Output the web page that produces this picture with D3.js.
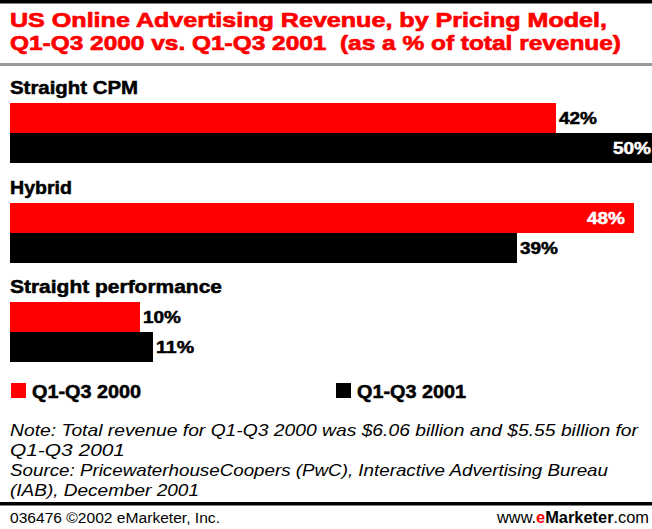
<!DOCTYPE html>
<html><head><meta charset="utf-8">
<script src="https://cdn.jsdelivr.net/npm/d3@7"></script>
<style>body{margin:0;background:#fff}svg{display:block}</style>
</head><body>
<div id="chart"></div>
<script>
const categories = ["Straight CPM", "Hybrid", "Straight performance"];
const seriesNames = ["Q1-Q3 2000", "Q1-Q3 2001"];
const values2000 = [42, 48, 10];
const values2001 = [50, 39, 11];
const titleLines = ["US Online Advertising Revenue, by Pricing Model,", "Q1-Q3 2000 vs. Q1-Q3 2001  (as a % of total revenue)"];
const noteLines = ["Note: Total revenue for Q1-Q3 2000 was $6.06 billion and $5.55 billion for", "Q1-Q3 2001", "Source: PricewaterhouseCoopers (PwC), Interactive Advertising Bureau", "(IAB), December 2001"];

const W = 652, H = 529;
const colors = ["#ff0000", "#000000"];
const font = "'Liberation Sans Narrow', 'Liberation Sans', Arial, sans-serif";
const svg = d3.select("#chart").append("svg").attr("width", W).attr("height", H);
svg.append("rect").attr("width", W).attr("height", H).attr("fill", "#fff");

// top black rule
svg.append("rect").attr("x", 0).attr("y", 0).attr("width", W).attr("height", 3.5).attr("fill", "#000");

// title
const titleLens = [597, 611];
svg.selectAll(".title").data(titleLines).enter().append("text")
  .attr("x", 10).attr("y", (d, i) => 27 + i * 23)
  .style("white-space", "pre")
  .attr("font-family", font).attr("font-weight", "bold").attr("font-size", 21)
  .attr("fill", "#ff0000").attr("stroke", "#ff0000").attr("stroke-width", 0.7)
  .attr("textLength", (d, i) => titleLens[i]).attr("lengthAdjust", "spacingAndGlyphs")
  .text(d => d);
svg.append("rect").attr("x", 0).attr("y", 63).attr("width", W).attr("height", 3).attr("fill", "#9a9a9a");

// scales
const x = d3.scaleLinear().domain([0, 50]).range([10, 660]);
const groupY = d3.scaleBand().domain(categories).range([103, 403]).paddingInner(0).paddingOuter(0);
const rows = categories.map((c, i) => ({cat: c, vals: [values2000[i], values2001[i]]}));

const catLens = [128, 62, 212];
const g = svg.selectAll(".grp").data(rows).enter().append("g")
  .attr("transform", d => `translate(0,${groupY(d.cat) - (d.cat === "Straight performance" ? 1 : 0)})`);

g.append("text").attr("x", 10).attr("y", -9)
  .attr("font-family", font).attr("font-weight", "bold").attr("font-size", 18).attr("fill", "#000")
  .attr("stroke", "#000").attr("stroke-width", 0.5)
  .attr("textLength", (d, i) => catLens[i]).attr("lengthAdjust", "spacingAndGlyphs")
  .text(d => d.cat);

const barH = 30;
const bars = g.selectAll(".bar").data(d => d.vals.map((v, j) => ({v, j}))).enter();
bars.append("rect")
  .attr("x", x(0)).attr("y", d => d.j * barH)
  .attr("width", d => x(d.v) - x(0)).attr("height", barH)
  .attr("fill", d => colors[d.j]);
bars.append("text")
  .attr("x", d => d.v >= 45 ? x(d.v) - 9 : x(d.v) + 3)
  .attr("y", d => d.j * barH + 21)
  .attr("text-anchor", d => d.v >= 45 ? "end" : "start")
  .attr("font-family", font).attr("font-weight", "bold").attr("font-size", 17)
  .attr("fill", d => d.v >= 45 ? "#fff" : "#000")
  .attr("stroke", d => d.v >= 45 ? "#fff" : "#000").attr("stroke-width", 0.5)
  .attr("textLength", 38).attr("lengthAdjust", "spacingAndGlyphs")
  .text(d => d.v + "%");

// legend
const legX = [11, 336];
const leg = svg.selectAll(".leg").data(seriesNames).enter().append("g")
  .attr("transform", (d, i) => `translate(${legX[i]},383)`);
leg.append("rect").attr("width", 15).attr("height", 15).attr("fill", (d, i) => colors[i]);
leg.append("text").attr("x", 21).attr("y", 15)
  .attr("font-family", font).attr("font-weight", "bold").attr("font-size", 18).attr("fill", "#000")
  .attr("stroke", "#000").attr("stroke-width", 0.5)
  .attr("textLength", 109).attr("lengthAdjust", "spacingAndGlyphs")
  .text(d => d);

// notes
const noteLens = [628, 115, 598, 189];
svg.selectAll(".note").data(noteLines).enter().append("text")
  .attr("x", 10).attr("y", (d, i) => 436 + i * 20)
  .attr("font-family", font).attr("font-style", "italic").attr("font-size", 17).attr("fill", "#000")
  .attr("textLength", (d, i) => noteLens[i]).attr("lengthAdjust", "spacingAndGlyphs")
  .text(d => d);

svg.append("rect").attr("x", 0).attr("y", 502).attr("width", W).attr("height", 3.5).attr("fill", "#000");

// footer
svg.append("text").attr("x", 10).attr("y", 523)
  .attr("font-family", font).attr("font-size", 14).attr("fill", "#000")
  .attr("textLength", 210).attr("lengthAdjust", "spacingAndGlyphs")
  .text("036476 ©2002 eMarketer, Inc.");
const ft = svg.append("text").attr("x", 497).attr("y", 523)
  .attr("font-family", font).attr("font-size", 16).attr("fill", "#000")
  .attr("textLength", 152).attr("lengthAdjust", "spacingAndGlyphs");
ft.append("tspan").text("www.");
ft.append("tspan").attr("font-weight", "bold").attr("fill", "#ff0000").text("e");
ft.append("tspan").attr("font-weight", "bold").text("Marketer");
ft.append("tspan").text(".com");
</script>
</body></html>
